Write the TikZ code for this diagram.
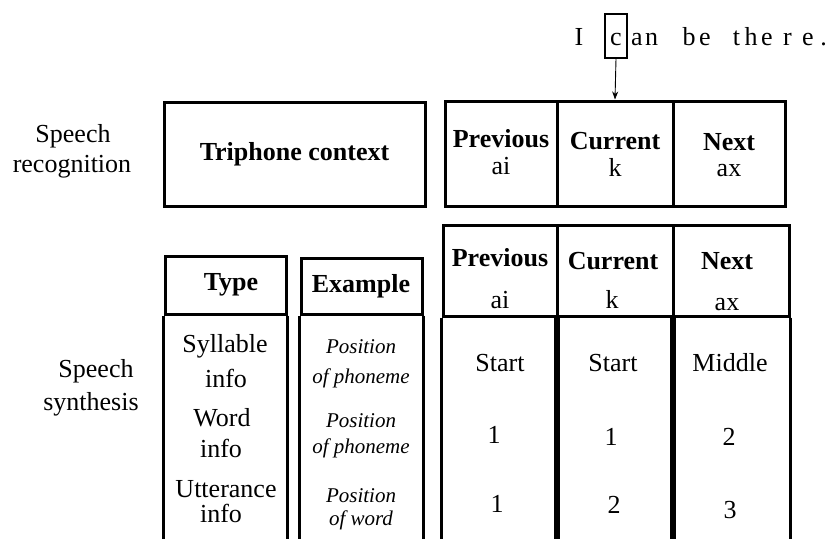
\documentclass[tikz,border=0pt]{standalone}
\usepackage{fontspec}
\setmainfont{Liberation Serif}
\usetikzlibrary{arrows.meta}
\begin{document}
\begin{tikzpicture}[x=1pt,y=-1pt,
  frame/.style={draw, line width=3pt, inner sep=0pt},
  txt/.style={font=\fontsize{26}{28}\selectfont, anchor=base, inner sep=0pt},
  hd/.style={anchor=base, inner sep=0pt, font=\fontsize{26}{28}\selectfont\bfseries},
  ex/.style={anchor=base, inner sep=0pt, font=\fontsize{21}{23}\selectfont\itshape},
  col/.style={line width=3pt},
]
\useasboundingbox (0,0) rectangle (832,539);
\coordinate (bot) at (0,539);

% sentence, letter by letter
\foreach \x/\ch/\nm in {579/I/s1, 637/a/s3, 651.5/n/s4, 689/b/s5, 705/e/s6,
  736.5/t/s7, 751/h/s8, 767/e/s9, 787.5/r/s10, 808/e/s11, 823.5/./s12}
  \node[txt] (\nm) at (\x,45) {\ch};
\node[txt] (s2) at (616,45) {c};
\node[draw, line width=1.2pt, minimum width=22, minimum height=44, inner sep=0pt] (cbox) at (616,36) {};

% side labels
\node[txt] (sr1) at (73,142) {Speech};
\node[txt] (sr2) at (72,172) {recognition};
\node[txt] (ss1) at (96,377) {Speech};
\node[txt] (ss2) at (91,410) {synthesis};

% speech recognition row
\node[frame, minimum width=261, minimum height=104] (tri) at (294.5,154) {};
\node[hd] (trit) at (294.5,160) {Triphone context};

\node[frame, minimum width=112, minimum height=105] (rp) at (501,153.5) {};
\node[frame, minimum width=116, minimum height=105] (rc) at (615,153.5) {};
\node[frame, minimum width=112, minimum height=105] (rn) at (729,153.5) {};
\node[hd]  (rpt) at (501,147) {Previous};
\node[txt] (rpv) at (501,174) {ai};
\node[hd]  (rct) at (615,149) {Current};
\node[txt] (rcv) at (615,176) {k};
\node[hd]  (rnt) at (729,150) {Next};
\node[txt] (rnv) at (729,176) {ax};

\draw[line width=0.9pt, -{Stealth[length=8pt, width=6pt, inset=2.5pt]}] (cbox.south) -- (rc.north);

% speech synthesis: attribute columns
\node[frame, minimum width=121, minimum height=58] (th) at (225.5,285) {};
\node[frame, minimum width=121, minimum height=56] (eh) at (361.5,286) {};
\foreach \n in {th, eh}{
  \draw[col] (\n.south west) -- (\n.south west |- bot);
  \draw[col] (\n.south east) -- (\n.south east |- bot);
}
\node[hd] (tht) at (231,290) {Type};
\node[hd] (eht) at (361,292) {Example};

\node[txt] (t1a) at (225,352) {Syllable};
\node[txt] (t1b) at (226,387) {info};
\node[txt] (t2a) at (222,426) {Word};
\node[txt] (t2b) at (221,457) {info};
\node[txt] (t3a) at (226,497) {Utterance};
\node[txt] (t3b) at (221,522) {info};

\node[ex] (e1a) at (361,353) {Position};
\node[ex] (e1b) at (361,383) {of phoneme};
\node[ex] (e2a) at (361,427) {Position};
\node[ex] (e2b) at (361,453) {of phoneme};
\node[ex] (e3a) at (361,502) {Position};
\node[ex] (e3b) at (361,525) {of word};

% speech synthesis: triphone columns
\node[frame, minimum width=114, minimum height=91] (sp) at (500,270.5) {};
\node[frame, minimum width=116, minimum height=91] (sc) at (615,270.5) {};
\node[frame, minimum width=116, minimum height=91] (sn) at (731,270.5) {};
\foreach \n in {sp, sc, sn}{
  \draw[col] (\n.south west) -- (\n.south west |- bot);
  \draw[col] (\n.south east) -- (\n.south east |- bot);
}
\node[hd]  (spt) at (500,266) {Previous};
\node[txt] (spv) at (500,308) {ai};
\node[hd]  (sct) at (613,269) {Current};
\node[txt] (scv) at (612,308) {k};
\node[hd]  (snt) at (727,269) {Next};
\node[txt] (snv) at (727,310) {ax};

\node[txt] (p1) at (500,371) {Start};
\node[txt] (c1) at (613,371) {Start};
\node[txt] (n1) at (730,371) {Middle};
\node[txt] (p2) at (494,443) {1};
\node[txt] (c2) at (611,445) {1};
\node[txt] (n2) at (729,445) {2};
\node[txt] (p3) at (497,512) {1};
\node[txt] (c3) at (614,513) {2};
\node[txt] (n3) at (730,518) {3};
\end{tikzpicture}
\end{document}
